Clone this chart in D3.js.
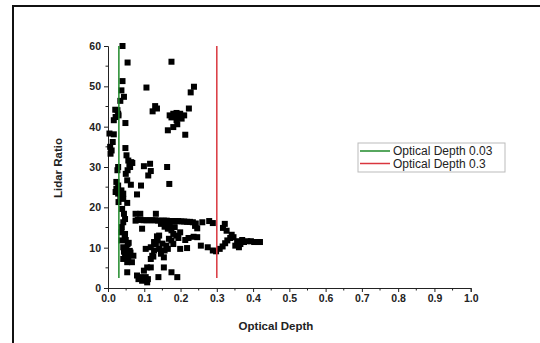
<!DOCTYPE html>
<html>
<head>
<meta charset="utf-8">
<script src="https://cdn.jsdelivr.net/npm/d3@7"></script>
<style>
  body { margin: 0; background: #fff; }
  text { font-family: "Liberation Sans", Arial, sans-serif; }
</style>
</head>
<body>
<div id="chart"></div>
<script>
// Optical depth / lidar ratio pairs
const upperPoints = [
  [0.040, 60], [0.054, 55.9], [0.040, 51.3], [0.037, 49.0], [0.044, 47.4], [0.034, 46.4],
  [0.020, 44.2], [0.026, 44.1], [0.028, 43.2], [0.021, 42.4], [0.016, 41.6], [0.029, 42.8],
  [0.048, 40.9], [0.004, 38.3], [0.016, 38.1], [0.013, 36.2], [0.006, 35.0], [0.010, 34.1],
  [0.007, 33.3], [0.048, 34.7], [0.051, 32.9], [0.106, 49.7], [0.130, 45.1], [0.135, 44.5],
  [0.123, 43.8], [0.175, 56.1], [0.237, 49.9], [0.228, 48.5], [0.223, 44.5],
  [0.170, 42.8], [0.180, 43.2], [0.189, 43.4], [0.199, 43.2], [0.194, 42.6], [0.184, 42.4],
  [0.175, 42.3], [0.210, 42.8], [0.203, 42.0], [0.189, 41.6], [0.191, 40.6], [0.180, 39.9],
  [0.165, 39.1], [0.213, 38.0]
];
const midPoints = [
  [0.028, 30.0], [0.026, 29.2], [0.056, 31.6], [0.064, 31.2], [0.061, 30.0], [0.054, 29.2],
  [0.049, 28.3], [0.067, 31.0], [0.059, 30.6], [0.053, 26.7], [0.063, 25.6], [0.080, 23.2],
  [0.091, 25.4], [0.099, 30.2], [0.116, 30.8], [0.118, 29.0], [0.111, 27.9], [0.163, 30.0],
  [0.169, 25.8], [0.023, 26.3], [0.028, 25.4], [0.023, 24.6], [0.021, 23.8], [0.028, 23.4],
  [0.032, 23.8], [0.037, 24.2], [0.042, 23.4], [0.034, 22.5], [0.029, 21.3], [0.042, 22.1],
  [0.053, 21.1], [0.039, 19.6], [0.044, 18.4]
];
const nearLinePoints = [
  [0.047, 17.1], [0.042, 16.3], [0.038, 15.1], [0.037, 13.8], [0.047, 13.4], [0.037, 11.8],
  [0.049, 11.9], [0.054, 10.9], [0.042, 10.1], [0.051, 9.7], [0.047, 8.5], [0.056, 7.6],
  [0.042, 7.2], [0.053, 6.4], [0.066, 6.4], [0.070, 8.0], [0.053, 3.9], [0.060, 9.2],
  [0.046, 12.6], [0.057, 11.2], [0.062, 8.8], [0.044, 9.0]
];
const bandPoints = [
  [0.076, 18.4], [0.089, 18.4], [0.132, 18.4], [0.076, 16.7], [0.082, 16.9], [0.090, 16.9],
  [0.098, 16.8], [0.106, 16.8], [0.114, 16.8], [0.122, 16.8], [0.130, 16.8], [0.138, 16.7],
  [0.146, 16.7], [0.154, 16.7], [0.162, 16.7], [0.170, 16.6], [0.178, 16.6], [0.186, 16.6],
  [0.194, 16.6], [0.202, 16.5], [0.210, 16.5], [0.218, 16.4], [0.226, 16.4], [0.234, 16.3],
  [0.242, 16.0], [0.260, 16.3], [0.279, 16.6], [0.289, 16.1], [0.322, 15.9], [0.317, 14.9],
  [0.327, 14.2], [0.094, 14.7], [0.146, 15.9], [0.156, 15.2], [0.165, 14.7], [0.175, 14.3],
  [0.180, 13.4], [0.189, 13.0], [0.194, 12.4], [0.184, 15.1], [0.199, 13.8], [0.160, 16.0],
  [0.170, 15.5], [0.246, 14.8], [0.240, 15.4]
];
const tailPoints = [
  [0.246, 12.6], [0.236, 12.7], [0.222, 12.4], [0.213, 11.9], [0.256, 10.5], [0.275, 10.1],
  [0.289, 9.3], [0.298, 9.1], [0.308, 9.7], [0.316, 10.3], [0.323, 11.1], [0.329, 11.8],
  [0.337, 12.4], [0.346, 12.6], [0.356, 11.6], [0.351, 10.5], [0.361, 10.1], [0.365, 10.9],
  [0.375, 11.4], [0.384, 11.6], [0.394, 11.6], [0.403, 11.4], [0.413, 11.4], [0.419, 11.4],
  [0.341, 13.2], [0.370, 11.9]
];
const lowerPoints = [
  [0.104, 9.7], [0.118, 10.1], [0.127, 9.3], [0.122, 8.0], [0.118, 7.2], [0.132, 10.9],
  [0.137, 11.8], [0.127, 11.4], [0.141, 9.7], [0.146, 8.5], [0.156, 9.3], [0.154, 7.6],
  [0.161, 10.5], [0.165, 9.7], [0.141, 13.0], [0.135, 12.8], [0.175, 11.8], [0.180, 10.9],
  [0.199, 9.7], [0.218, 9.9], [0.108, 5.1], [0.118, 5.1], [0.099, 4.3], [0.080, 3.1],
  [0.089, 2.7], [0.099, 2.0], [0.108, 1.4], [0.094, 1.8], [0.104, 2.7], [0.084, 2.2],
  [0.110, 2.2], [0.139, 2.7], [0.154, 5.1], [0.175, 3.9], [0.191, 2.7], [0.125, 7.8],
  [0.150, 11.0], [0.168, 12.2]
];
const allPoints = [].concat(upperPoints, midPoints, nearLinePoints, bandPoints, tailPoints, lowerPoints);

// reference lines
const refNames = ["Optical Depth 0.03", "Optical Depth 0.3"];
const refValues = [0.03, 0.3];
const refColors = ["#1f8a2a", "#d9363e"];
const refRange = [2.5, 60];

const xTicks = [0, 0.1, 0.2, 0.3, 0.4, 0.5, 0.6, 0.7, 0.8, 0.9, 1.0];
const yTicks = [0, 10, 20, 30, 40, 50, 60];

const W = 540, H = 343;
const svg = d3.select("#chart").append("svg")
  .attr("width", W)
  .attr("height", H);

// outer frame (cut at right/bottom)
svg.append("rect")
  .attr("x", 13).attr("y", 6)
  .attr("width", 600).attr("height", 400)
  .attr("fill", "none")
  .attr("stroke", "#111")
  .attr("stroke-width", 2);

const x = d3.scaleLinear().domain([0, 1]).range([108, 470.7]);
const y = d3.scaleLinear().domain([0, 60]).range([288, 46]);

// axes
const xAxis = svg.append("g").attr("transform", `translate(0,${y(0)})`)
  .call(d3.axisBottom(x).tickValues(xTicks).tickFormat(d3.format(".1f")).tickSize(4).tickPadding(3));
xAxis.append("g").selectAll("line")
  .data(d3.range(0.05, 1, 0.1))
  .join("line")
  .attr("x1", d => x(d)).attr("x2", d => x(d))
  .attr("y1", 0).attr("y2", 2.5)
  .attr("stroke", "#222");

const yAxis = svg.append("g").attr("transform", `translate(${x(0)},0)`)
  .call(d3.axisLeft(y).tickValues(yTicks).tickSize(4).tickPadding(3));
yAxis.append("g").selectAll("line")
  .data(d3.range(5, 60, 10))
  .join("line")
  .attr("x1", 0).attr("x2", -2.5)
  .attr("y1", d => y(d)).attr("y2", d => y(d))
  .attr("stroke", "#222");

svg.selectAll(".domain, .tick line").attr("stroke", "#222").attr("stroke-width", 1);
svg.selectAll(".tick text")
  .attr("fill", "#222")
  .style("font-size", "10.5px")
  .style("font-weight", "bold");

// axis titles
svg.append("text")
  .attr("x", 276).attr("y", 330)
  .attr("text-anchor", "middle")
  .style("font-size", "11.5px").style("font-weight", "bold")
  .attr("fill", "#222")
  .text("Optical Depth");

svg.append("text")
  .attr("transform", "translate(62,168) rotate(-90)")
  .attr("text-anchor", "middle")
  .style("font-size", "11.5px").style("font-weight", "bold")
  .attr("fill", "#222")
  .text("Lidar Ratio");

// scatter
const sz = 6;
svg.append("g").selectAll("rect")
  .data(allPoints)
  .join("rect")
  .attr("x", d => x(d[0]) - sz / 2)
  .attr("y", d => y(d[1]) - sz / 2)
  .attr("width", sz).attr("height", sz)
  .attr("fill", "#000");

// vertical reference lines
svg.append("g").selectAll("line")
  .data(refValues)
  .join("line")
  .attr("x1", d => x(d)).attr("x2", d => x(d))
  .attr("y1", y(refRange[0])).attr("y2", y(refRange[1]))
  .attr("stroke", (d, i) => refColors[i])
  .attr("stroke-width", 1.5);

// legend
const lg = svg.append("g").attr("transform", "translate(358,143)");
lg.append("rect")
  .attr("width", 147).attr("height", 29)
  .attr("fill", "#fff")
  .attr("stroke", "#bbb");
const item = lg.selectAll("g")
  .data(refNames)
  .join("g")
  .attr("transform", (d, i) => `translate(0,${8 + i * 12.5})`);
item.append("line")
  .attr("x1", 2).attr("x2", 32)
  .attr("stroke", (d, i) => refColors[i])
  .attr("stroke-width", 1.5);
item.append("text")
  .attr("x", 35).attr("dy", "0.35em")
  .style("font-size", "12px")
  .attr("fill", "#222")
  .text(d => d);
</script>
</body>
</html>
